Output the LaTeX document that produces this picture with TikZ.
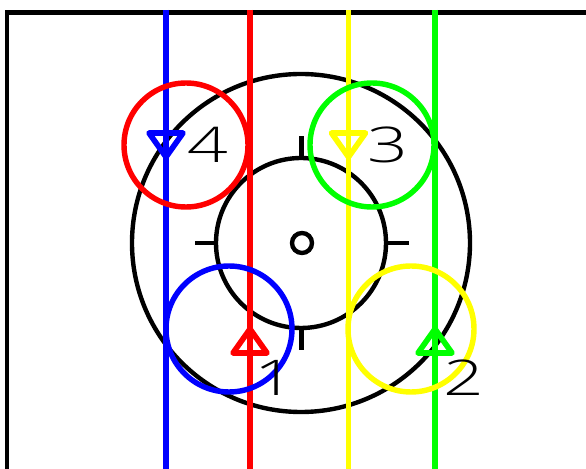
\documentclass[tikz,border=0pt]{standalone}
\usepackage{tikz}
\usepackage{fontspec}
\newfontfamily\digitfont{Open Sans Light}

\definecolor{beamred}{RGB}{255,0,0}
\definecolor{beamgreen}{RGB}{0,255,0}
\definecolor{beamblue}{RGB}{0,0,255}
\definecolor{beamyellow}{RGB}{255,255,0}

\tikzset{
	frameline/.style={line width=2.7pt, black},
	ringline/.style={line width=2.5pt, black},
	beam/.style={line width=3.1pt},
	halo/.style={line width=3.1pt},
	marker/.style={line width=3.2pt, line join=round},
	digit/.style={font=\digitfont\fontsize{28}{28}\selectfont, inner sep=0pt, xscale=1.45, black}
}

\begin{document}
\begin{tikzpicture}[x=0.02cm, y=-0.02cm]
	\useasboundingbox (0,0) rectangle (586,469);
	
	% frame
	\draw[frameline] (7,469) -- (7,12.5) -- (586,12.5);
	
	% rings and ticks
	\draw[ringline] (301,243) circle (169);
	\draw[ringline] (301,243) circle (85);
	\draw[ringline] (302,243) circle (10);
	\foreach \a in {0,90,180,270}
		\draw[ringline] (301.5,243) ++(\a:85) -- ++(\a:22);
	
	% vertical beams
	\foreach \px/\col in {166/beamblue, 250/beamred, 348.5/beamyellow, 435/beamgreen}
		\draw[beam, \col] (\px,10) -- (\px,469);
	
	% coloured circles
	\draw[halo, beamred] (186,145) circle (62);
	\draw[halo, beamgreen] (372,145) circle (62);
	\draw[halo, beamblue] (229,329) circle (63);
	\draw[halo, beamyellow] (411,329) circle (63);
	
	% triangles
	\foreach \px/\col in {166/beamblue, 348.5/beamyellow}
		\draw[marker, \col] (\px-17,133) -- (\px+17,133) -- (\px,157) -- cycle;
	\foreach \px/\col in {250/beamred, 435/beamgreen}
		\draw[marker, \col] (\px-17,353) -- (\px+17,353) -- (\px,329) -- cycle;
	
	% numbers
	\node[digit] (one) at (275,378) {1};
	\node[digit] (two) at (464,378) {2};
	\node[digit] (three) at (388,145) {3};
	\node[digit] (four) at (208,145) {4};
	
\end{tikzpicture}
\end{document}
